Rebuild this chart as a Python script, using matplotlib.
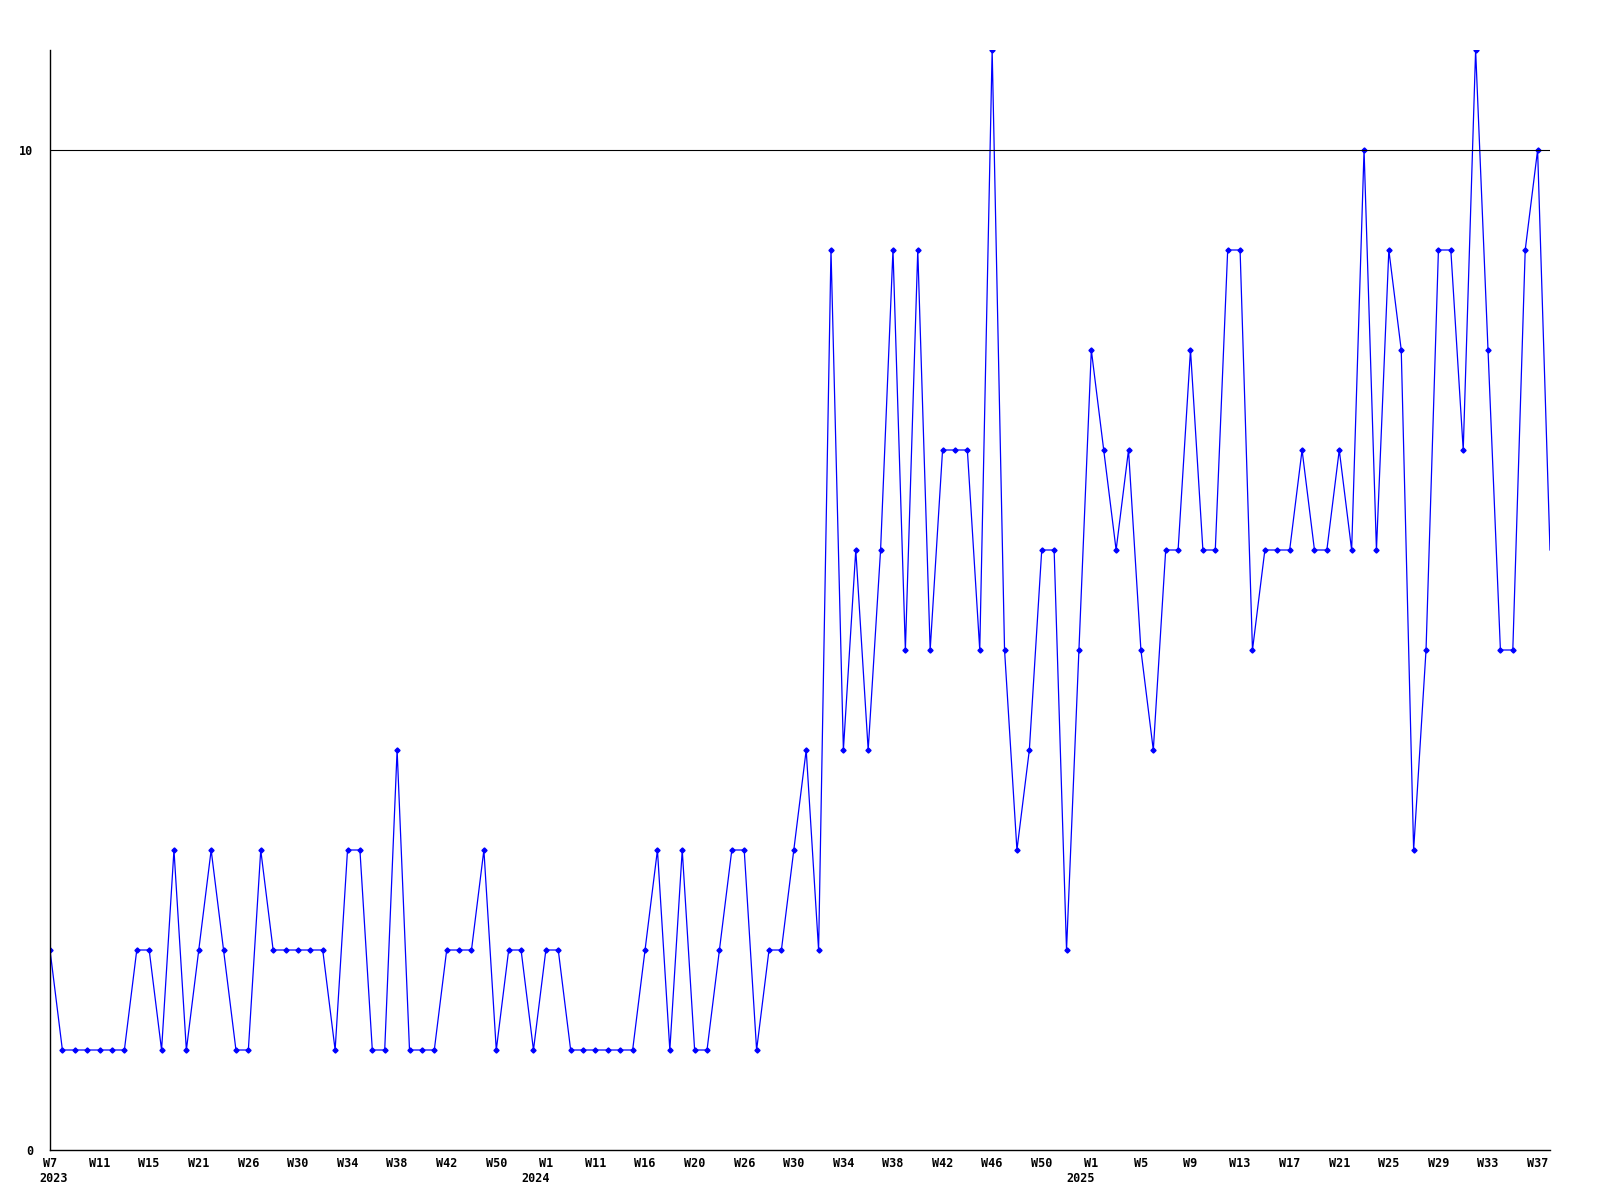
import matplotlib
matplotlib.use("Agg")
import matplotlib.pyplot as plt

# weekly values, W7 2023 .. W38 2025 (some weeks missing)
values = [
    2, 1, 1, 1, 1, 1, 1, 2, 2, 1, 3, 1, 2, 3, 2, 1, 1, 3, 2, 2,
    2, 2, 2, 1, 3, 3, 1, 1, 4, 1, 1, 1, 2, 2, 2, 3, 1, 2, 2, 1,
    2, 2, 1, 1, 1, 1, 1, 1, 2, 3, 1, 3, 1, 1, 2, 3, 3, 1, 2, 2,
    3, 4, 2, 9, 4, 6, 4, 6, 9, 5, 9, 5, 7, 7, 7, 5, 11, 5, 3, 4,
    6, 6, 2, 5, 8, 7, 6, 7, 5, 4, 6, 6, 8, 6, 6, 9, 9, 5, 6, 6,
    6, 7, 6, 6, 7, 6, 10, 6, 9, 8, 3, 5, 9, 9, 7, 11, 8, 5, 5, 9,
    10, 6,
]

week_labels = [
    "W7", "W11", "W15", "W21", "W26", "W30", "W34", "W38", "W42", "W50",
    "W1", "W11", "W16", "W20", "W26", "W30", "W34", "W38", "W42", "W46",
    "W50", "W1", "W5", "W9", "W13", "W17", "W21", "W25", "W29", "W33", "W37",
]
label_step = 4
year_labels = {0: "2023", 10: "2024", 21: "2025"}  # index into week_labels
ref_level = 10

font = dict(family="DejaVu Sans Mono", fontweight="bold", fontsize=8.5)

fig = plt.figure(figsize=(16, 12), dpi=100)
ax = fig.add_axes([50 / 1600, 50 / 1200, 1500 / 1600, 1100 / 1200])

xs = list(range(len(values)))
ax.plot(xs, values, color="#0000ff", linewidth=0.9)
# last (current) week has no marker
ax.plot(xs[:-1], values[:-1], linestyle="none", marker="D", markersize=2.6,
        color="#0000ff")

ax.axhline(ref_level, color="black", linewidth=0.8)

ax.set_xlim(0, len(values) - 1)
ax.set_ylim(0, 11)

for s in ["top", "right"]:
    ax.spines[s].set_visible(False)
for s in ["left", "bottom"]:
    ax.spines[s].set_linewidth(1.0)

ax.set_yticks([0, ref_level])
ax.set_yticklabels(["0", "10"], **font)
ax.tick_params(axis="y", length=0, pad=12)

ticks = [i * label_step for i in range(len(week_labels))]
ax.set_xticks(ticks)
ax.set_xticklabels(week_labels, **font)
ax.tick_params(axis="x", length=0, pad=5)

for i, yr in year_labels.items():
    if i == 0:
        ha, dx = "left", -11
    else:
        ha, dx = "right", 4
    ax.annotate(yr, xy=(ticks[i], 0), xycoords=("data", "axes fraction"),
                xytext=(dx, -28), textcoords="offset pixels",
                ha=ha, va="center", **font)

fig.savefig("out.png", dpi=100)
